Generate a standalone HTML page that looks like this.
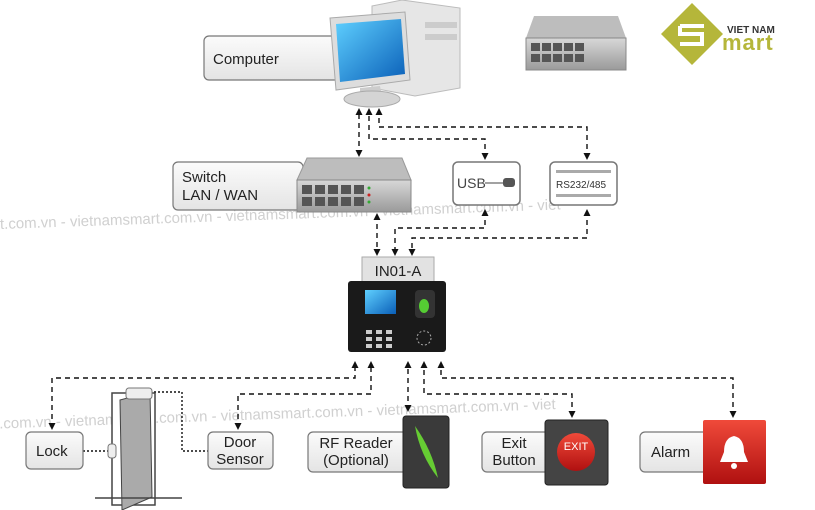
<!DOCTYPE html>
<html><head><meta charset="utf-8"><style>
html,body{margin:0;padding:0;background:#fff;}
svg{display:block;font-family:"Liberation Sans",sans-serif;}
</style></head><body>
<svg width="815" height="510" viewBox="0 0 815 510" xmlns="http://www.w3.org/2000/svg">
<defs>
<linearGradient id="box" x1="0" y1="0" x2="0" y2="1"><stop offset="0" stop-color="#fbfbfb"/><stop offset="1" stop-color="#e4e4e4"/></linearGradient>
<linearGradient id="metal" x1="0" y1="0" x2="0" y2="1"><stop offset="0" stop-color="#d8d8d8"/><stop offset="1" stop-color="#9a9a9a"/></linearGradient>
<linearGradient id="scr" x1="0" y1="0" x2="1" y2="1"><stop offset="0" stop-color="#5fd0ff"/><stop offset="1" stop-color="#0a5fb8"/></linearGradient>
<linearGradient id="red" x1="0" y1="0" x2="0" y2="1"><stop offset="0" stop-color="#f04a3a"/><stop offset="1" stop-color="#b01010"/></linearGradient>
<marker id="ar" markerUnits="userSpaceOnUse" markerWidth="7" markerHeight="7" refX="5" refY="3.5" orient="auto-start-reverse"><path d="M0,0 L7,3.5 L0,7 z" fill="#111"/></marker>
</defs>
<!-- watermark -->
<g fill="#d0d0d0" font-size="15">
<text x="-5" y="222" transform="rotate(-2 200 222)">rt.com.vn - vietnamsmart.com.vn - vietnamsmart.com.vn - vietnamsmart.com.vn - viet</text>
<text x="-5" y="418" transform="rotate(-2 300 418)">t.com.vn - vietnamsmart.com.vn - vietnamsmart.com.vn - vietnamsmart.com.vn - viet</text>
</g>
<!-- computer label -->
<rect x="204" y="36" width="150" height="44" rx="5" fill="url(#box)" stroke="#777" stroke-width="1.2"/>
<text x="213" y="64" font-size="15" fill="#222">Computer</text>
<!-- tower -->
<path d="M372,6 L402,0 L460,8 L460,88 L415,96 L372,88 z" fill="#e6e6e6" stroke="#bbb"/>
<rect x="425" y="22" width="32" height="6" fill="#ccc"/><rect x="425" y="34" width="32" height="6" fill="#ccc"/>
<!-- monitor -->
<path d="M330,18 L405,12 L410,80 L336,90 z" fill="#ddd" stroke="#aaa"/>
<path d="M336,24 L401,19 L405,74 L340,82 z" fill="url(#scr)"/>
<path d="M360,88 L380,86 L382,96 L360,98 z" fill="#ccc"/>
<ellipse cx="372" cy="99" rx="28" ry="8" fill="#d4d4d4" stroke="#aaa"/>
<!-- top switch -->
<g transform="translate(526,16)">
<path d="M8,0 L92,0 L100,22 L0,22 z" fill="#bdbdbd"/>
<rect x="0" y="22" width="100" height="32" fill="url(#metal)" stroke="#888"/>
<g fill="#555"><rect x="5" y="27" width="9" height="8"/><rect x="16" y="27" width="9" height="8"/><rect x="27" y="27" width="9" height="8"/><rect x="38" y="27" width="9" height="8"/><rect x="49" y="27" width="9" height="8"/><rect x="5" y="38" width="9" height="8"/><rect x="16" y="38" width="9" height="8"/><rect x="27" y="38" width="9" height="8"/><rect x="38" y="38" width="9" height="8"/><rect x="49" y="38" width="9" height="8"/></g>
</g>
<!-- logo -->
<path d="M692,3 L723,34 L692,65 L661,34 z" fill="#b5b63a"/>
<path d="M680,26 h24 M680,26 v8 h22 v10 h-22" stroke="#fff" stroke-width="4" fill="none"/>
<text x="727" y="33" font-size="10" font-weight="bold" fill="#333">VIET NAM</text>
<text x="722" y="50" font-size="22" font-weight="bold" fill="#b5b63a" letter-spacing="1">mart</text>
<!-- switch label -->
<rect x="173" y="162" width="130" height="48" rx="5" fill="url(#box)" stroke="#777" stroke-width="1.2"/>
<text x="182" y="182" font-size="15" fill="#222">Switch</text>
<text x="182" y="200" font-size="15" fill="#222">LAN / WAN</text>
<g transform="translate(297,158)">
<path d="M10,0 L105,0 L114,22 L0,22 z" fill="#bdbdbd" stroke="#999"/>
<rect x="0" y="22" width="114" height="32" fill="url(#metal)" stroke="#888"/>
<g fill="#555"><rect x="5" y="27" width="10" height="9"/><rect x="18" y="27" width="10" height="9"/><rect x="31" y="27" width="10" height="9"/><rect x="44" y="27" width="10" height="9"/><rect x="57" y="27" width="10" height="9"/><rect x="5" y="39" width="10" height="9"/><rect x="18" y="39" width="10" height="9"/><rect x="31" y="39" width="10" height="9"/><rect x="44" y="39" width="10" height="9"/><rect x="57" y="39" width="10" height="9"/></g>
<circle cx="72" cy="30" r="1.5" fill="#3a3"/><circle cx="72" cy="37" r="1.5" fill="#c22"/><circle cx="72" cy="44" r="1.5" fill="#3a3"/>
</g>
<!-- USB / RS232 -->
<rect x="453" y="162" width="67" height="43" rx="5" fill="#fff" stroke="#777" stroke-width="1.5"/>
<text x="457" y="188" font-size="14" fill="#444">USB</text>
<line x1="485" y1="183" x2="503" y2="183" stroke="#444"/><rect x="503" y="178" width="12" height="9" rx="3" fill="#555"/>
<rect x="550" y="162" width="67" height="43" rx="5" fill="#fff" stroke="#777" stroke-width="1.5"/>
<rect x="556" y="170" width="55" height="3" fill="#aaa"/><rect x="556" y="194" width="55" height="3" fill="#aaa"/>
<text x="556" y="188" font-size="10" fill="#333">RS232/485</text>
<!-- device -->
<rect x="362" y="257" width="72" height="26" fill="#e2e2e2" stroke="#aaa"/>
<text x="398" y="276" font-size="15" fill="#222" text-anchor="middle">IN01-A</text>
<rect x="348" y="281" width="98" height="71" rx="3" fill="#1a1a1a"/>
<rect x="365" y="290" width="31" height="24" fill="url(#scr)"/>
<rect x="415" y="290" width="20" height="28" rx="4" fill="#333"/><ellipse cx="424" cy="306" rx="5" ry="7" fill="#5c3"/>
<g fill="#ccc"><rect x="366" y="330" width="6" height="4"/><rect x="376" y="330" width="6" height="4"/><rect x="386" y="330" width="6" height="4"/><rect x="366" y="337" width="6" height="4"/><rect x="376" y="337" width="6" height="4"/><rect x="386" y="337" width="6" height="4"/><rect x="366" y="344" width="6" height="4"/><rect x="376" y="344" width="6" height="4"/><rect x="386" y="344" width="6" height="4"/></g>
<circle cx="424" cy="338" r="7" fill="none" stroke="#aaa" stroke-dasharray="2 2"/>
<!-- connectors -->
<g stroke="#111" stroke-width="1.4" stroke-dasharray="5 4" fill="none">
<path d="M359,155 L359,110" marker-start="url(#ar)" marker-end="url(#ar)"/>
<path d="M485,158 L485,139 L369,139 L369,110" marker-start="url(#ar)" marker-end="url(#ar)"/>
<path d="M587,158 L587,127 L379,127 L379,110" marker-start="url(#ar)" marker-end="url(#ar)"/>
<path d="M377,215 L377,254" marker-start="url(#ar)" marker-end="url(#ar)"/>
<path d="M485,211 L485,228 L395,228 L395,254" marker-start="url(#ar)" marker-end="url(#ar)"/>
<path d="M587,211 L587,238 L412,238 L412,254" marker-start="url(#ar)" marker-end="url(#ar)"/>
<path d="M52,428 L52,378 L355,378 L355,363" marker-start="url(#ar)" marker-end="url(#ar)"/>
<path d="M238,428 L238,394 L371,394 L371,363" marker-start="url(#ar)" marker-end="url(#ar)"/>
<path d="M408,410 L408,363" marker-start="url(#ar)" marker-end="url(#ar)"/>
<path d="M572,416 L572,394 L424,394 L424,363" marker-start="url(#ar)" marker-end="url(#ar)"/>
<path d="M733,416 L733,378 L441,378 L441,363" marker-start="url(#ar)" marker-end="url(#ar)"/>
</g>
<g stroke="#111" stroke-width="1.4" stroke-dasharray="2 2" fill="none">
<path d="M83,451 L108,451"/><path d="M150,392 L182,392 L182,451 L208,451"/>
</g>
<!-- door -->
<rect x="112" y="393" width="43" height="112" fill="#fff" stroke="#444" stroke-width="1.5"/>
<path d="M120,400 L150,392 L152,497 L122,510 z" fill="#aaa" stroke="#444"/>
<rect x="126" y="388" width="26" height="11" rx="3" fill="#eee" stroke="#777"/>
<rect x="108" y="444" width="8" height="14" rx="3" fill="#eee" stroke="#777"/>
<line x1="95" y1="498" x2="182" y2="498" stroke="#444" stroke-width="1.5"/>
<!-- bottom boxes -->
<g fill="url(#box)" stroke="#777" stroke-width="1.2">
<rect x="26" y="432" width="57" height="37" rx="5"/>
<rect x="208" y="432" width="65" height="37" rx="5"/>
<rect x="308" y="432" width="100" height="40" rx="5"/>
<rect x="482" y="432" width="68" height="40" rx="5"/>
<rect x="640" y="432" width="68" height="40" rx="5"/>
</g>
<g font-size="15" fill="#222">
<text x="36" y="456">Lock</text>
<text x="240" y="447" text-anchor="middle">Door</text><text x="240" y="464" text-anchor="middle">Sensor</text>
<text x="356" y="448" text-anchor="middle">RF Reader</text><text x="356" y="465" text-anchor="middle">(Optional)</text>
<text x="514" y="448" text-anchor="middle">Exit</text><text x="514" y="465" text-anchor="middle">Button</text>
<text x="651" y="457">Alarm</text>
</g>
<rect x="403" y="416" width="46" height="72" rx="3" fill="#3a3a3a" stroke="#222"/>
<path d="M415,426 Q432,450 438,478 Q420,455 415,426 z" fill="#6c3"/>
<rect x="545" y="420" width="63" height="65" rx="3" fill="#444" stroke="#222"/>
<circle cx="576" cy="452" r="19" fill="url(#red)"/>
<text x="576" y="450" font-size="11" fill="#fff" text-anchor="middle">EXIT</text>
<rect x="703" y="420" width="63" height="64" rx="2" fill="url(#red)"/>
<path d="M734,436 Q724,438 724,452 L720,462 L748,462 L744,452 Q744,438 734,436 z" fill="#fff"/>
<circle cx="734" cy="466" r="3" fill="#fff"/>
</svg>
</body></html>
